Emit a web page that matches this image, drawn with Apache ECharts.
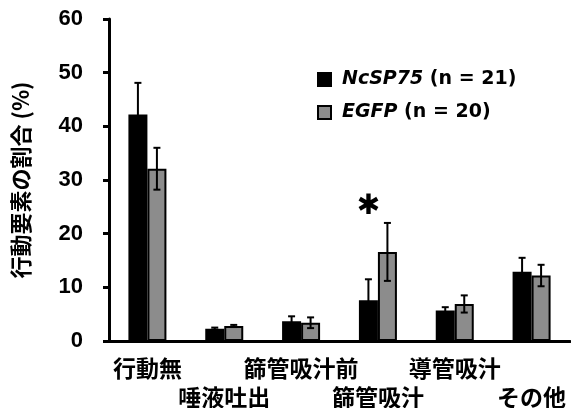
<!DOCTYPE html>
<html>
<head>
<meta charset="utf-8">
<script src="https://cdn.jsdelivr.net/npm/echarts@6/dist/echarts.min.js"></script>
<style>html,body{margin:0;padding:0;background:#fff}#c{width:571px;height:408px}</style>
</head>
<body>
<div id="c"></div>
<script>
const categories = ['行動無', '唾液吐出', '篩管吸汁前', '篩管吸汁', '導管吸汁', 'その他'];
const seriesNames = ['NcSP75', 'EGFP'];
const nCounts = [21, 20];
const ncsp75Mean = [42.2, 2.3, 3.7, 7.6, 5.7, 12.9];
const ncsp75Err  = [5.9, 0.2, 0.9, 3.9, 0.6, 2.6];
const egfpMean   = [32.1, 2.8, 3.4, 16.6, 6.9, 12.2];
const egfpErr    = [3.9, 0.2, 1.0, 5.4, 1.6, 2.0];
const yTicks = [0, 10, 20, 30, 40, 50, 60];
const starCategory = 3;
const starValue = 25;

const BAR_W = 19;
const CJK = '"Noto Sans CJK JP", sans-serif';
const LEG = '"DejaVu Sans", sans-serif';

function errSeries(means, errs, offset) {
  return {
    type: 'custom',
    z: 5,
    silent: true,
    data: means.map((m, i) => [i, m, errs[i]]),
    renderItem: function (params, api) {
      const i = api.value(0), m = api.value(1), e = api.value(2);
      const top = api.coord([i, m + e]);
      const bot = api.coord([i, m - e]);
      const x = top[0] + offset;
      const cap = 3.5;
      const style = { stroke: '#000', lineWidth: 2 };
      return {
        type: 'group',
        children: [
          { type: 'line', shape: { x1: x, y1: top[1], x2: x, y2: bot[1] }, style },
          { type: 'line', shape: { x1: x - cap, y1: top[1], x2: x + cap, y2: top[1] }, style },
          { type: 'line', shape: { x1: x - cap, y1: bot[1], x2: x + cap, y2: bot[1] }, style }
        ]
      };
    }
  };
}

const chart = echarts.init(document.getElementById('c'));
chart.setOption({
  animation: false,
  grid: { left: 109, right: 1, top: 19, bottom: 67, containLabel: false, outerBoundsMode: 'none' },
  legend: {
    data: seriesNames,
    orient: 'vertical',
    left: 312,
    top: 65,
    icon: 'rect',
    itemWidth: 13,
    itemHeight: 13,
    itemGap: 14,
    formatter: function (name) {
      const n = nCounts[seriesNames.indexOf(name)];
      return '{i|' + name + '} {n|(n = ' + n + ')}';
    },
    textStyle: {
      color: '#000',
      fontFamily: LEG,
      fontWeight: 'bold',
      fontSize: 19,
      padding: [0, 0, 0, 6],
      rich: {
        i: { fontFamily: LEG, fontStyle: 'italic', fontWeight: 'bold', fontSize: 19, color: '#000' },
        n: { fontFamily: LEG, fontWeight: 'bold', fontSize: 19, color: '#000' }
      }
    }
  },
  xAxis: {
    type: 'category',
    data: categories,
    axisLine: { lineStyle: { color: '#000', width: 3 } },
    axisTick: { show: false },
    axisLabel: {
      interval: 0,
      hideOverlap: false,
      margin: 13,
      color: '#000',
      fontFamily: CJK,
      fontWeight: 'bold',
      fontSize: 23,
      lineHeight: 29,
      formatter: function (v, i) { return i % 2 ? '\n' + v : v; }
    }
  },
  yAxis: {
    type: 'value',
    min: yTicks[0],
    max: yTicks[yTicks.length - 1],
    interval: 10,
    name: '行動要素の割合 (%)',
    nameLocation: 'middle',
    nameRotate: 90,
    nameGap: 77,
    nameTextStyle: { color: '#000', fontFamily: CJK, fontWeight: 'bold', fontSize: 22 },
    splitLine: { show: false },
    axisLine: { show: true, lineStyle: { color: '#000', width: 3 } },
    axisTick: { show: true, length: 6, lineStyle: { color: '#000', width: 3 } },
    axisLabel: {
      margin: 26,
      color: '#000',
      fontFamily: '"Liberation Sans", Arial, sans-serif',
      fontWeight: 'bold',
      fontSize: 22
    }
  },
  series: [
    {
      name: seriesNames[0],
      type: 'bar',
      barWidth: BAR_W,
      barGap: '0%',
      data: ncsp75Mean,
      itemStyle: { color: '#000', borderColor: '#000', borderWidth: 2 },
      markPoint: {
        symbol: 'circle',
        symbolSize: 0,
        silent: true,
        label: {
          show: true,
          formatter: '✱',
          color: '#000',
          fontFamily: '"DejaVu Sans", sans-serif',
          fontSize: 28,
          position: 'inside'
        },
        data: [{ coord: [starCategory, starValue] }]
      }
    },
    {
      name: seriesNames[1],
      type: 'bar',
      barWidth: BAR_W,
      barGap: '0%',
      data: egfpMean,
      itemStyle: { color: '#8c8c8c', borderColor: '#000', borderWidth: 2 }
    },
    errSeries(ncsp75Mean, ncsp75Err, -BAR_W / 2),
    errSeries(egfpMean, egfpErr, BAR_W / 2)
  ]
});
</script>
</body>
</html>
